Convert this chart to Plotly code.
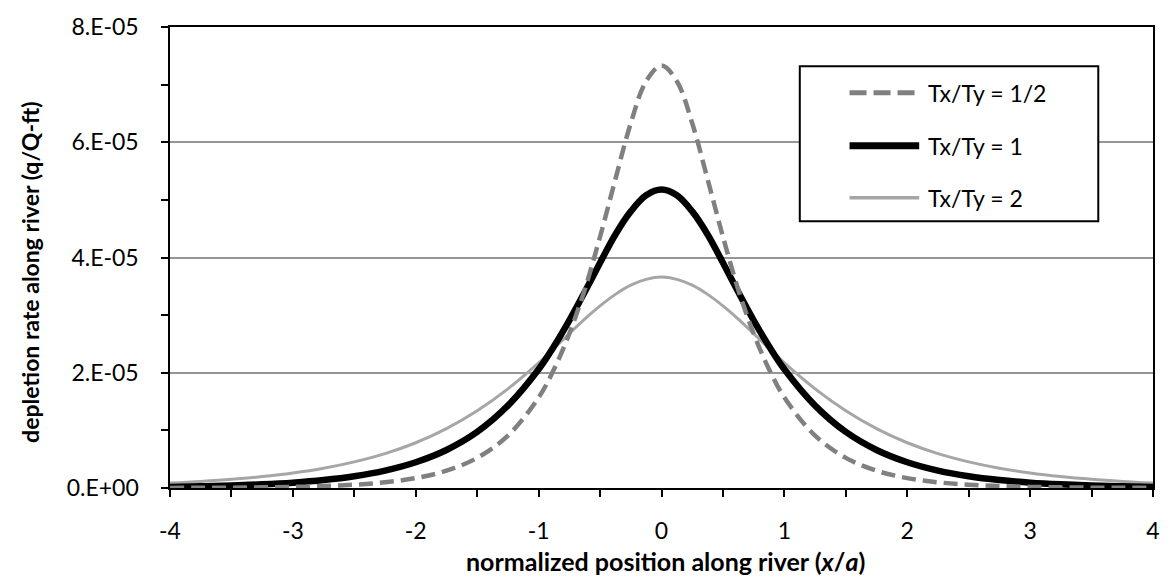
import plotly.graph_objects as go

# Position along the river, normalized by well distance (x/a)
x_pos = [-4.0, -3.75, -3.5, -3.25, -3.0, -2.75, -2.5, -2.25, -2.0, -1.75, -1.5, -1.25,
         -1.0, -0.875, -0.75, -0.625, -0.5, -0.375, -0.25, -0.125, 0.0,
         0.125, 0.25, 0.375, 0.5, 0.625, 0.75, 0.875, 1.0,
         1.25, 1.5, 1.75, 2.0, 2.25, 2.5, 2.75, 3.0, 3.25, 3.5, 3.75, 4.0]

# Depletion rate along river (q/Q-ft) for three transmissivity ratios
q_half = [0.002e-5, 0.004e-5, 0.006e-5, 0.011e-5, 0.019e-5, 0.033e-5, 0.057e-5, 0.099e-5,
          0.172e-5, 0.300e-5, 0.523e-5, 0.909e-5,
          1.57e-5, 2.06e-5, 2.68e-5, 3.44e-5, 4.36e-5, 5.36e-5, 6.33e-5, 7.06e-5, 7.33e-5,
          7.06e-5, 6.33e-5, 5.36e-5, 4.36e-5, 3.44e-5, 2.68e-5, 2.06e-5, 1.57e-5,
          0.909e-5, 0.523e-5, 0.300e-5, 0.172e-5, 0.099e-5, 0.057e-5, 0.033e-5, 0.019e-5,
          0.011e-5, 0.006e-5, 0.004e-5, 0.002e-5]

q_one = [0.019e-5, 0.029e-5, 0.042e-5, 0.063e-5, 0.093e-5, 0.138e-5, 0.204e-5, 0.302e-5,
         0.447e-5, 0.660e-5, 0.973e-5, 1.43e-5,
         2.06e-5, 2.46e-5, 2.91e-5, 3.40e-5, 3.91e-5, 4.40e-5, 4.80e-5, 5.08e-5, 5.18e-5,
         5.08e-5, 4.80e-5, 4.40e-5, 3.91e-5, 3.40e-5, 2.91e-5, 2.46e-5, 2.06e-5,
         1.43e-5, 0.973e-5, 0.660e-5, 0.447e-5, 0.302e-5, 0.204e-5, 0.138e-5, 0.093e-5,
         0.063e-5, 0.042e-5, 0.029e-5, 0.019e-5]

q_two = [0.086e-5, 0.114e-5, 0.150e-5, 0.198e-5, 0.261e-5, 0.344e-5, 0.454e-5, 0.597e-5,
         0.785e-5, 1.03e-5, 1.34e-5, 1.72e-5,
         2.17e-5, 2.42e-5, 2.68e-5, 2.93e-5, 3.16e-5, 3.36e-5, 3.52e-5, 3.62e-5, 3.66e-5,
         3.62e-5, 3.52e-5, 3.36e-5, 3.16e-5, 2.93e-5, 2.68e-5, 2.42e-5, 2.17e-5,
         1.72e-5, 1.34e-5, 1.03e-5, 0.785e-5, 0.597e-5, 0.454e-5, 0.344e-5, 0.261e-5,
         0.198e-5, 0.150e-5, 0.114e-5, 0.086e-5]

series_names = ["Tx/Ty = 1/2", "Tx/Ty = 1", "Tx/Ty = 2"]

y_tick_vals = [0, 2e-5, 4e-5, 6e-5, 8e-5]
y_tick_text = ["0.E+00", "2.E-05", "4.E-05", "6.E-05", "8.E-05"]
x_tick_vals = [-4, -3, -2, -1, 0, 1, 2, 3, 4]
x_tick_text = ["-4", "-3", "-2", "-1", "0", "1", "2", "3", "4"]

FONT = "Lato, 'Open Sans', sans-serif"
GAP = "\u00a0" * 3  # keeps y tick labels clear of the axis

styles = [
    dict(color="#808080", width=4.5, dash="14px,7px"),
    dict(color="#000000", width=6.5, dash="solid"),
    dict(color="#a6a6a6", width=3, dash="solid"),
]
legend_dash = ["17px,7px", "solid", "solid"]

fig = go.Figure()
# draw light curve first, then black, then dashed on top
order = [2, 1, 0]
all_q = [q_half, q_one, q_two]
for i in order:
    fig.add_trace(go.Scatter(
        x=x_pos, y=all_q[i], mode="lines", name=series_names[i],
        line=dict(shape="spline", smoothing=1.0, **styles[i]),
        showlegend=False, hoverinfo="x+y",
    ))

# plot area in pixels: left 170, right 1158, top 18, bottom 488
L, R, T, B = 170, 1158, 18, 488
W, H = R - L, B - T


def px(xp):
    return (xp - L) / W


def py(yp):
    return (B - yp) / H


shapes = []
annotations = []

# boxed legend
shapes.append(dict(type="rect", xref="paper", yref="paper",
                   x0=px(803), x1=px(1103), y0=py(216), y1=py(58),
                   line=dict(color="black", width=2), fillcolor="white", layer="above"))
legend_rows = [85, 139, 192]
for i, yr in enumerate(legend_rows):
    st = styles[i]
    shapes.append(dict(type="line", xref="paper", yref="paper",
                       x0=px(853), x1=px(923), y0=py(yr), y1=py(yr),
                       line=dict(color=st["color"], width=st["width"] + 0.5,
                                 dash=legend_dash[i]),
                       layer="above"))
    annotations.append(dict(xref="paper", yref="paper", x=px(930), y=py(yr),
                            text=series_names[i], showarrow=False,
                            xanchor="left", yanchor="middle",
                            font=dict(family=FONT, size=23, color="black")))

# axis titles
annotations.append(dict(xref="paper", yref="paper", x=px(30), y=py(268),
                        text="<b>depletion rate along river (q/Q-ft)</b>",
                        textangle=-90, showarrow=False,
                        xanchor="center", yanchor="middle",
                        font=dict(family=FONT, size=23, color="black")))
annotations.append(dict(xref="paper", yref="paper", x=px(668), y=py(562),
                        text="<b>normalized position along river (<i>x</i>/<i>a</i>)</b>",
                        showarrow=False, xanchor="center", yanchor="middle",
                        font=dict(family=FONT, size=25, color="black")))

fig.update_layout(
    width=1172, height=580,
    margin=dict(l=L, r=1172 - R, t=T, b=580 - B, pad=0),
    paper_bgcolor="white", plot_bgcolor="white",
    font=dict(family=FONT, size=22, color="black"),
    shapes=shapes, annotations=annotations,
    showlegend=False,
)

fig.update_xaxes(
    range=[-4, 4], tickvals=x_tick_vals, ticktext=x_tick_text,
    ticks="outside", ticklen=7, tickwidth=1.5, tickcolor="black",
    minor=dict(ticks="outside", dtick=0.5, tick0=0, ticklen=7, tickwidth=1.5,
               tickcolor="black", showgrid=False),
    showline=True, linecolor="black", linewidth=2, mirror=True,
    showgrid=False, zeroline=False, ticklabelstandoff=14,
    tickfont=dict(family=FONT, size=23, color="black"),
)

fig.update_yaxes(
    range=[0, 8e-5], tickvals=y_tick_vals,
    ticktext=[t + GAP for t in y_tick_text],
    ticks="outside", ticklen=7, tickwidth=1.5, tickcolor="black",
    minor=dict(ticks="outside", dtick=1e-5, tick0=0, ticklen=7, tickwidth=1.5,
               tickcolor="black", showgrid=False),
    showline=True, linecolor="black", linewidth=2, mirror=True,
    showgrid=True, gridcolor="#969696", gridwidth=1.5, zeroline=False,
    tickfont=dict(family=FONT, size=23, color="black"),
)

fig.write_html("out.html")
